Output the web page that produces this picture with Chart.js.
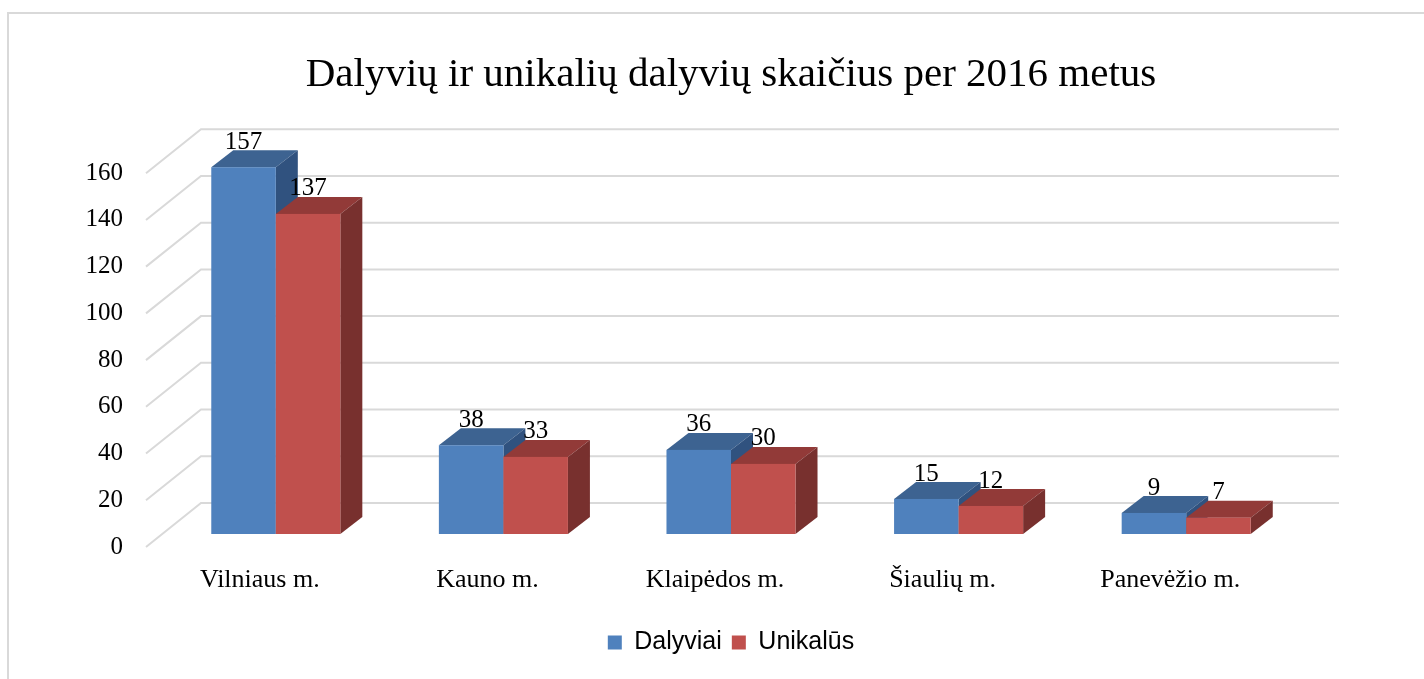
<!DOCTYPE html>
<html>
<head>
<meta charset="utf-8">
<script src="https://cdn.jsdelivr.net/npm/chart.js@4/dist/chart.umd.min.js"></script>
<style>
    html, body { margin: 0; padding: 0; background: #fff; }
    #wrap { position: relative; width: 1424px; height: 679px; overflow: hidden; }
    #frame { position: absolute; left: 7px; top: 12px; width: 1500px; height: 800px; border: 2px solid #d9d9d9; box-sizing: border-box; }
    canvas { position: absolute; left: 0; top: 0; }
</style>
</head>
<body>
<div id="wrap">
    <div id="frame"></div>
    <canvas id="chart" width="1424" height="679"></canvas>
</div>
<script>
const categories = ['Vilniaus m.', 'Kauno m.', 'Klaipėdos m.', 'Šiaulių m.', 'Panevėžio m.'];
const dalyviai = [157, 38, 36, 15, 9];
const unikalus = [137, 33, 30, 12, 7];
const yTicks = [0, 20, 40, 60, 80, 100, 120, 140, 160];

// 3D look: offsets of the back wall, the floor front and the bar depth
const wallDx = 39, wallDy = -31;
const floorDx = -16, floorDy = 13;
const depthDx = 22, depthDy = -17;

const faces = {
    Dalyviai: { front: '#4F81BD', top: '#3D6391', side: '#30527F' },
    'Unikalūs': { front: '#C0504D', top: '#923A38', side: '#78302E' }
};

const serif = '"Liberation Serif", "Times New Roman", serif';

const wallsPlugin = {
    id: 'walls',
    beforeDatasetsDraw(chart) {
        const ctx = chart.ctx;
        const y = chart.scales.y;
        const area = chart.chartArea;
        ctx.save();
        ctx.strokeStyle = '#d9d9d9';
        ctx.lineWidth = 2;
        yTicks.forEach(v => {
            const py = y.getPixelForValue(v);
            ctx.beginPath();
            ctx.moveTo(area.left + floorDx, py + floorDy);
            ctx.lineTo(area.left + wallDx, py + wallDy);
            ctx.lineTo(area.right + wallDx, py + wallDy);
            ctx.stroke();
        });
        ctx.restore();
    }
};

const boxesPlugin = {
    id: 'boxes',
    afterDatasetsDraw(chart) {
        const ctx = chart.ctx;
        ctx.save();
        // left series first, the right one hides its side face
        chart.data.datasets.forEach((ds, d) => {
            const meta = chart.getDatasetMeta(d);
            const f = faces[ds.label];
            meta.data.forEach(bar => {
                const left = bar.x - bar.width / 2;
                const right = bar.x + bar.width / 2;
                const top = bar.y;
                const bottom = bar.base;
                // top face
                ctx.fillStyle = f.top;
                ctx.beginPath();
                ctx.moveTo(left, top);
                ctx.lineTo(left + depthDx, top + depthDy);
                ctx.lineTo(right + depthDx, top + depthDy);
                ctx.lineTo(right, top);
                ctx.closePath();
                ctx.fill();
                // side face
                ctx.fillStyle = f.side;
                ctx.beginPath();
                ctx.moveTo(right, top);
                ctx.lineTo(right + depthDx, top + depthDy);
                ctx.lineTo(right + depthDx, bottom + depthDy);
                ctx.lineTo(right, bottom);
                ctx.closePath();
                ctx.fill();
                // front face
                ctx.fillStyle = f.front;
                ctx.fillRect(left, top, right - left, bottom - top);
            });
        });
        // value labels
        ctx.fillStyle = '#000';
        ctx.font = '25px ' + serif;
        ctx.textAlign = 'center';
        ctx.textBaseline = 'middle';
        chart.data.datasets.forEach((ds, d) => {
            chart.getDatasetMeta(d).data.forEach((bar, i) => {
                ctx.fillText(String(ds.data[i]), bar.x, bar.y - 25);
            });
        });
        ctx.restore();
    }
};

const ctx = document.getElementById('chart').getContext('2d');
new Chart(ctx, {
    type: 'bar',
    data: {
        labels: categories,
        datasets: [
            { label: 'Dalyviai', data: dalyviai, backgroundColor: 'rgba(0,0,0,0)', borderWidth: 0 },
            { label: 'Unikalūs', data: unikalus, backgroundColor: 'rgba(0,0,0,0)', borderWidth: 0, yAxisID: 'y' }
        ]
    },
    options: {
        responsive: false,
        animation: false,
        devicePixelRatio: 1,
        layout: { padding: { left: 38, right: 0, top: 0, bottom: 14 } },
        categoryPercentage: 0.567,
        barPercentage: 1.0,
        plugins: {
            title: {
                display: true,
                text: 'Dalyvių ir unikalių dalyvių skaičius per 2016 metus',
                color: '#000',
                font: { family: serif, size: 41, weight: 'normal', lineHeight: 1.2 },
                padding: { top: 51, bottom: 60 }
            },
            legend: {
                position: 'bottom',
                labels: {
                    boxWidth: 14,
                    boxHeight: 14,
                    color: '#000',
                    padding: 10,
                    font: { family: '"Liberation Sans", Arial, sans-serif', size: 25 },
                    generateLabels(chart) {
                        return chart.data.datasets.map((ds, i) => ({
                            text: ds.label,
                            fillStyle: faces[ds.label].front,
                            strokeStyle: faces[ds.label].front,
                            lineWidth: 0,
                            hidden: false,
                            datasetIndex: i
                        }));
                    }
                }
            },
            tooltip: { enabled: false }
        },
        scales: {
            x: {
                grid: { display: false, drawTicks: false },
                border: { display: false },
                ticks: {
                    color: '#000',
                    padding: 31,
                    labelOffset: -16,
                    maxRotation: 0,
                    font: { family: serif, size: 26 }
                },
                afterFit(scale) { scale.height = 86; }
            },
            y: {
                min: 0,
                max: 160,
                grid: { display: false, drawTicks: false },
                border: { display: false },
                afterBuildTicks(scale) { scale.ticks = yTicks.map(v => ({ value: v })); },
                ticks: {
                    color: '#000',
                    padding: 39,
                    labelOffset: 13,
                    font: { family: serif, size: 25 }
                },
                afterFit(scale) { scale.width = 124; }
            },
            yRight: {
                position: 'right',
                display: true,
                grid: { display: false, drawTicks: false },
                border: { display: false },
                ticks: { display: false },
                afterFit(scale) { scale.width = 124; }
            }
        }
    },
    plugins: [wallsPlugin, boxesPlugin]
});
</script>
</body>
</html>
